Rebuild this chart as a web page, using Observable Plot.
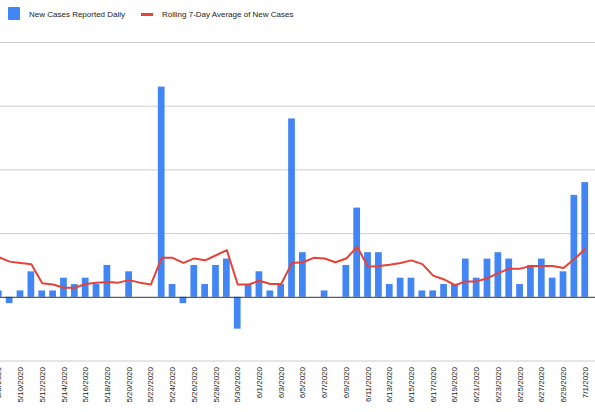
<!DOCTYPE html>
<html><head><meta charset="utf-8">
<script src="https://cdn.jsdelivr.net/npm/d3@7"></script>
<script src="https://cdn.jsdelivr.net/npm/@observablehq/plot@0.6"></script>
<style>
html,body{margin:0;padding:0;background:#fff;overflow:hidden;width:595px;height:412px;}
#legend{position:relative;height:28px;font-family:"Liberation Sans",Arial,sans-serif;font-size:8px;color:#222;}
#legend span{position:absolute;white-space:nowrap;}
#chart{width:595px;height:384px;overflow:hidden;position:relative;}
#chart svg{position:absolute;left:-45px;top:0;max-width:none;}
</style></head><body>
<div id="legend">
 <span style="left:8px;top:7px;width:12px;height:13px;background:#4285f4;border-radius:1px"></span>
 <span style="left:29px;top:10px;">New Cases Reported Daily</span>
 <span style="left:141px;top:12.5px;width:12px;height:3px;background:#e74236"></span>
 <span style="left:162px;top:10px;">Rolling 7-Day Average of New Cases</span>
</div>
<div id="chart"></div>
<script>
const dates = [
 "5/8/2020","5/9/2020","5/10/2020","5/11/2020","5/12/2020","5/13/2020","5/14/2020","5/15/2020",
 "5/16/2020","5/17/2020","5/18/2020","5/19/2020","5/20/2020","5/21/2020","5/22/2020","5/23/2020",
 "5/24/2020","5/25/2020","5/26/2020","5/27/2020","5/28/2020","5/29/2020","5/30/2020","5/31/2020",
 "6/1/2020","6/2/2020","6/3/2020","6/4/2020","6/5/2020","6/6/2020","6/7/2020","6/8/2020",
 "6/9/2020","6/10/2020","6/11/2020","6/12/2020","6/13/2020","6/14/2020","6/15/2020","6/16/2020",
 "6/17/2020","6/18/2020","6/19/2020","6/20/2020","6/21/2020","6/22/2020","6/23/2020","6/24/2020",
 "6/25/2020","6/26/2020","6/27/2020","6/28/2020","6/29/2020","6/30/2020","7/1/2020"];
const newCases = [
 1,-1,1,4,1,1,3,2,
 3,2,5,0,4,0,0,33,
 2,-1,5,2,5,6,-5,2,
 4,1,2,28,7,0,1,0,
 5,14,7,7,2,3,3,1,
 1,2,2,6,3,6,7,6,
 2,5,6,3,4,16,18];
const rollingAvg = [
 6.3,5.6,5.4,5.2,2.2,2.0,1.5,1.5,
 2.1,2.3,2.4,2.3,2.7,2.3,2.0,6.2,
 6.2,5.4,6.1,5.8,6.6,7.4,2.0,2.0,
 2.6,2.1,2.1,5.4,5.5,6.2,6.1,5.5,
 6.1,7.9,4.8,4.9,5.1,5.4,5.8,5.2,
 3.4,2.8,1.9,2.5,2.5,3.0,3.8,4.5,
 4.5,4.9,4.9,4.9,4.6,6.0,7.6];
const tickDates = [
 "5/8/2020","5/10/2020","5/12/2020","5/14/2020","5/16/2020","5/18/2020","5/20/2020","5/22/2020",
 "5/24/2020","5/26/2020","5/28/2020","5/30/2020","6/1/2020","6/3/2020","6/5/2020","6/7/2020",
 "6/9/2020","6/11/2020","6/13/2020","6/15/2020","6/17/2020","6/19/2020","6/21/2020","6/23/2020",
 "6/25/2020","6/27/2020","6/29/2020","7/1/2020"];
const yGrid = [-10, 10, 20, 30, 40];
const yDomain = [-10, 40];

const data = dates.map((d, i) => ({date: d, cases: newCases[i], avg: rollingAvg[i]}));
const S = 45;
const step = 10.86;
const x0 = S - 7.13;

const chart = Plot.plot({
  width: 640, height: 384,
  marginTop: 14, marginBottom: 51.5, marginLeft: 0, marginRight: 0,
  style: {fontFamily: "'Liberation Sans', Arial, sans-serif", fontSize: "8px", color: "#222", background: "transparent", maxWidth: "none"},
  x: {type: "band", domain: dates, range: [x0, x0 + dates.length * step], paddingInner: 0.38, paddingOuter: 0.19, align: 0.5},
  y: {domain: yDomain, axis: null},
  marks: [
    Plot.ruleY(yGrid, {stroke: "#cccccc", strokeWidth: 1}),
    Plot.barY(data, {x: "date", y: "cases", fill: "#4285f4"}),
    Plot.ruleY([0], {stroke: "#333333", strokeWidth: 1}),
    Plot.lineY(data, {x: "date", y: "avg", stroke: "#e74236", strokeWidth: 2}),
    Plot.axisX({ticks: tickDates, tickRotate: -90, tickSize: 0, tickPadding: 6, fontSize: 8, label: null, fill: "#222"})
  ]
});
document.getElementById("chart").appendChild(chart);
</script>
</body></html>
